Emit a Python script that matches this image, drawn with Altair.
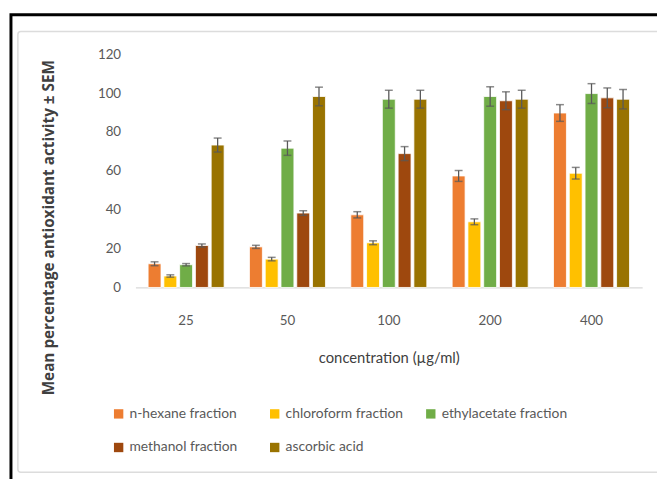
import altair as alt
import pandas as pd

concentrations = ["25", "50", "100", "200", "400"]
series = ["n-hexane fraction", "chloroform fraction", "ethylacetate fraction",
          "methanol fraction", "ascorbic acid"]
colors = ["#ED7D31", "#FFC000", "#70AD47", "#9E480E", "#997300"]
y_ticks = [0, 20, 40, 60, 80, 100, 120]

nhexane = [12.2, 20.9, 37.4, 57.4, 89.8]
chloroform = [5.9, 14.6, 23.0, 33.8, 58.8]
ethylacetate = [11.7, 71.7, 96.9, 98.3, 99.8]
methanol = [21.6, 38.3, 68.9, 96.1, 97.6]
ascorbic = [73.3, 98.3, 96.9, 96.9, 96.9]

nhexane_sem = [1.0, 0.8, 1.6, 2.8, 4.3]
chloroform_sem = [0.6, 0.9, 1.0, 1.5, 3.0]
ethylacetate_sem = [0.6, 3.7, 4.6, 5.0, 5.1]
methanol_sem = [0.8, 1.2, 3.6, 4.6, 5.1]
ascorbic_sem = [3.6, 4.8, 4.6, 4.6, 5.0]

vals = [nhexane, chloroform, ethylacetate, methanol, ascorbic]
sems = [nhexane_sem, chloroform_sem, ethylacetate_sem, methanol_sem, ascorbic_sem]

rows = []
for s, v, e in zip(series, vals, sems):
    for c, val, err in zip(concentrations, v, e):
        rows.append({"conc": c, "series": s, "value": val,
                     "lo": val - err, "hi": val + err})
df = pd.DataFrame(rows)

# legend fills column by column: order so rows read like the reference
legend_order = [0, 3, 1, 4, 2]
legend_domain = [series[i] for i in legend_order]
legend_range = [colors[i] for i in legend_order]

FONT = "Lato"
GREY = "#595959"

yscale = alt.Scale(domain=[0, 120])
yaxis = alt.Axis(values=y_ticks, grid=False, domain=False, ticks=False,
                 labelFontSize=13.5, labelColor=GREY, labelFont=FONT,
                 labelPadding=15, labelOverlap=False,
                 title="Mean percentage antioxidant activity ± SEM",
                 titleFont="Open Sans", titleFontSize=15.5, titleFontWeight="bold",
                 titleColor="#404040", titleX=-80, titleY=175,
                 titleAlign="center")

xaxis = alt.Axis(title="concentration (µg/ml)", labelAngle=0,
                 labelFontSize=13.5, labelColor=GREY, labelFont=FONT,
                 labelPadding=26, ticks=False, domainColor="#d9d9d9",
                 domainWidth=1.2, titleFont=FONT, titleFontSize=15,
                 titleFontWeight="normal", titleColor="#404040",
                 titlePadding=24)
xscale = alt.Scale(paddingInner=0.25, paddingOuter=0.125)
x = alt.X("conc:N", sort=concentrations, scale=xscale, axis=xaxis)
xo = alt.XOffset("series:N", sort=series, scale=alt.Scale(paddingInner=0.18))

bars = alt.Chart(df).mark_bar(stroke="white", strokeWidth=0.8).encode(
    x=x,
    xOffset=xo,
    y=alt.Y("value:Q", scale=yscale, axis=yaxis),
    color=alt.Color("series:N",
                    scale=alt.Scale(domain=legend_domain, range=legend_range),
                    legend=alt.Legend(title=None, orient="none", legendX=-24,
                                      legendY=357, columns=3, gridAlign="all",
                                      columnPadding=12, rowPadding=20,
                                      symbolType="square", symbolSize=90,
                                      symbolStrokeWidth=0, labelFont=FONT,
                                      labelFontSize=14, labelColor=GREY,
                                      labelOffset=4, labelLimit=300)),
)

rules = alt.Chart(df).mark_rule(color=GREY, strokeWidth=1.3).encode(
    x=x, xOffset=xo,
    y=alt.Y("lo:Q", scale=yscale, axis=yaxis), y2="hi:Q")
caps_lo = alt.Chart(df).mark_tick(color=GREY, thickness=1.5, size=8).encode(
    x=x, xOffset=xo, y=alt.Y("lo:Q", scale=yscale, axis=yaxis))
caps_hi = alt.Chart(df).mark_tick(color=GREY, thickness=1.5, size=8).encode(
    x=x, xOffset=xo, y=alt.Y("hi:Q", scale=yscale, axis=yaxis))

frame_df = pd.DataFrame({"k": [0]})
outer = alt.Chart(frame_df).mark_rect(fill=None, stroke="black", strokeWidth=3).encode(
    x=alt.value(-126), x2=alt.value(700), y=alt.value(-40), y2=alt.value(520))
inner = alt.Chart(frame_df).mark_rect(fill=None, stroke="#dcdcdc", strokeWidth=1.5,
                                      cornerRadius=3).encode(
    x=alt.value(-119), x2=alt.value(700), y=alt.value(-23), y2=alt.value(423))

chart = alt.layer(bars, rules, caps_lo, caps_hi, outer, inner).properties(
    width=513, height=236,
    autosize=alt.AutoSizeParams(type="none"),
    padding={"left": 129, "top": 44, "right": 15, "bottom": 191},
    background="white",
).configure_view(stroke=None).configure_axisY(labelOverlap=False, values=y_ticks)

chart.save("out.html", embed_options={"renderer": "svg", "actions": False})
